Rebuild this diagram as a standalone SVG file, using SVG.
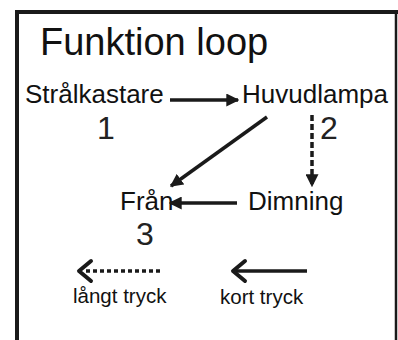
<svg xmlns="http://www.w3.org/2000/svg" width="398" height="340" viewBox="0 0 398 340">
<style>
text{font-family:"Liberation Sans",Arial,sans-serif;fill:#111}
.lbl{font-size:26px}
.num{font-size:32px;fill:#222}
.small{font-size:20.5px}
.ln{stroke:#1a1a1a;stroke-width:3.5;fill:none}
.dash{stroke-dasharray:6 3}
.dash2{stroke-dasharray:4 3}
.chev{stroke:#1a1a1a;stroke-width:4;fill:none;stroke-linecap:round;stroke-linejoin:round}
</style>
<defs>
<marker id="tri" viewBox="0 0 10 10" refX="9" refY="5" markerWidth="13" markerHeight="13" markerUnits="userSpaceOnUse" orient="auto">
<path d="M0,0 L10,5 L0,10 Z" fill="#1a1a1a"/>
</marker>
</defs>
<rect width="398" height="340" fill="#fff"/>
<g id="frame">
<path d="M17,342 L17,12 L398,12" stroke="#1a1a1a" stroke-width="4" fill="none"/>
<line x1="396" y1="12" x2="396" y2="342" stroke="#1a1a1a" stroke-width="2.5"/>
</g>
<g id="title"><text x="40" y="55" style="font-size:38px">Funktion loop</text></g>
<g id="n-stralkastare"><text class="lbl" x="25" y="103">Strålkastare</text><text class="num" x="97" y="139">1</text></g>
<g id="n-huvudlampa"><text class="lbl" x="242" y="103">Huvudlampa</text><text class="num" x="320" y="139">2</text></g>
<g id="n-fran"><text class="lbl" x="120" y="210">Från</text><text class="num" x="136" y="245">3</text></g>
<g id="n-dimning"><text class="lbl" x="248" y="210">Dimning</text></g>
<g id="connectors">
<line class="ln" x1="170" y1="100" x2="238" y2="100" marker-end="url(#tri)"/>
<line class="ln" x1="267" y1="117" x2="171" y2="186" marker-end="url(#tri)"/>
<line class="ln dash" x1="312" y1="115" x2="312" y2="186" marker-end="url(#tri)"/>
<line class="ln" x1="237" y1="203" x2="170" y2="203" marker-end="url(#tri)"/>
</g>
<g id="legend">
<line class="ln dash2" x1="160" y1="271" x2="84" y2="271" stroke-width="3"/>
<path class="chev" d="M91,261 L79,271 L91,281" stroke-width="3.5"/>
<text class="small" x="73" y="303">långt tryck</text>
<line class="ln" x1="307" y1="271" x2="236" y2="271" stroke-width="4"/>
<path class="chev" d="M245,261 L233,271 L245,281"/>
<text class="small" x="220" y="304">kort tryck</text>
</g>
</svg>
